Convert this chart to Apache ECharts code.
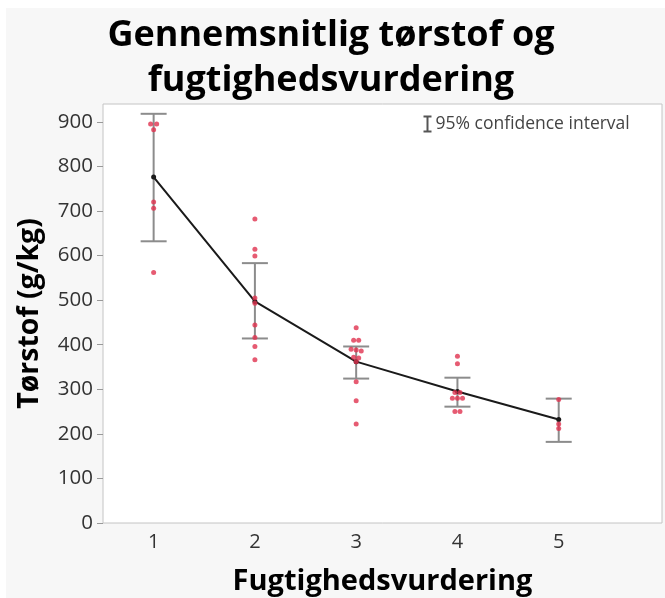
<!DOCTYPE html>
<html>
<head>
<meta charset="utf-8">
<script src="https://cdn.jsdelivr.net/npm/echarts@6/dist/echarts.min.js"></script>
<style>html,body{margin:0;padding:0;background:#fff}#c{width:665px;height:598px}</style>
</head>
<body>
<div id="c"></div>
<script>
const categories = [1, 2, 3, 4, 5];
const yTicks = [0, 100, 200, 300, 400, 500, 600, 700, 800, 900];
const means = [776, 497, 362, 295, 232];
const ciUpper = [918, 583, 396, 326, 279];
const ciLower = [632, 414, 324, 261, 182];
const obs1 = [895, 895, 882, 720, 706, 562];
const jit1 = [-0.03, 0.03, 0, 0, 0, 0];
const obs2 = [682, 614, 599, 505, 493, 444, 416, 396, 366];
const jit2 = [0, 0, 0, 0, 0, 0, 0, 0, 0];
const obs3 = [438, 410, 410, 390, 388, 386, 372, 370, 362, 317, 274, 222];
const jit3 = [0, -0.025, 0.025, -0.05, 0, 0.05, -0.025, 0.025, 0, 0, 0, 0];
const obs4 = [374, 357, 293, 293, 280, 280, 280, 250, 250];
const jit4 = [0, 0, -0.025, 0.025, -0.05, 0, 0.05, -0.025, 0.025];
const obs5 = [277, 222, 212];
const jit5 = [0, 0, 0];

const obsAll = [obs1, obs2, obs3, obs4, obs5];
const jitAll = [jit1, jit2, jit3, jit4, jit5];
const scatterData = [];
obsAll.forEach((arr, i) => arr.forEach((v, j) => scatterData.push([categories[i] + jitAll[i][j], v])));
const meanData = categories.map((c, i) => [c, means[i]]);
const ciData = categories.map((c, i) => [c, ciLower[i], ciUpper[i]]);

const FONT = 'Open Sans';
const chart = echarts.init(document.getElementById('c'), null, {renderer: 'canvas'});
chart.setOption({
  backgroundColor: '#f7f7f7',
  animation: false,
  title: {
    text: 'Gennemsnitlig tørstof og\nfugtighedsvurdering',
    left: 326, top: 8, textAlign: 'center',
    textStyle: {fontFamily: FONT, fontWeight: 'bold', fontSize: 36, lineHeight: 45, color: '#000'}
  },
  grid: {left: 103, top: 104, right: 3, bottom: 75, outerBoundsMode: 'none', containLabel: false,
    show: true, backgroundColor: '#fff', borderColor: '#c4c4c4', borderWidth: 1},
  xAxis: {
    type: 'value', min: 0.5, max: 6.02,
    name: 'Fugtighedsvurdering', nameLocation: 'middle', nameGap: 44,
    nameTextStyle: {fontFamily: FONT, fontWeight: 'bold', fontSize: 29, color: '#000'},
    axisLine: {show: false},
    splitLine: {show: false},
    axisTick: {show: false},
    axisLabel: {customValues: categories, fontFamily: FONT, fontSize: 20, color: '#333', margin: 9}
  },
  yAxis: {
    type: 'value', min: 0, max: 940,
    name: 'Tørstof (g/kg)', nameLocation: 'middle', nameGap: 59,
    nameTextStyle: {fontFamily: FONT, fontWeight: 'bold', fontSize: 28.5, color: '#000'},
    axisLine: {show: false},
    splitLine: {show: false},
    axisTick: {show: true, customValues: yTicks, length: 6, lineStyle: {color: '#999'}},
    axisLabel: {customValues: yTicks, fontFamily: FONT, fontSize: 20.5, color: '#333', margin: 10}
  },
  series: [
    {
      type: 'custom', data: ciData, z: 2,
      renderItem: function (params, api) {
        const x = api.value(0);
        const lo = api.coord([x, api.value(1)]);
        const hi = api.coord([x, api.value(2)]);
        const hw = 13;
        const st = {stroke: '#8c8c8c', lineWidth: 2};
        return {type: 'group', children: [
          {type: 'line', shape: {x1: lo[0], y1: lo[1], x2: hi[0], y2: hi[1]}, style: st},
          {type: 'line', shape: {x1: lo[0] - hw, y1: lo[1], x2: lo[0] + hw, y2: lo[1]}, style: st},
          {type: 'line', shape: {x1: hi[0] - hw, y1: hi[1], x2: hi[0] + hw, y2: hi[1]}, style: st}
        ]};
      }
    },
    {
      type: 'line', data: meanData, z: 3,
      lineStyle: {color: '#1a1a1a', width: 2},
      symbol: 'circle', symbolSize: 5, itemStyle: {color: '#1a1a1a'}
    },
    {
      type: 'scatter', data: scatterData, z: 4,
      symbol: 'circle', symbolSize: 5, itemStyle: {color: '#e0324f'}
    }
  ],
  graphic: [
    {type: 'rect', left: 0, top: 0, shape: {width: 665, height: 8}, style: {fill: '#fff'}, silent: true},
    {type: 'rect', left: 0, top: 0, shape: {width: 6, height: 598}, style: {fill: '#fff'}, silent: true},
    {type: 'group', left: 421, top: 114, children: [
      {type: 'line', shape: {x1: 4, y1: 0, x2: 4, y2: 15}, style: {stroke: '#555', lineWidth: 2}},
      {type: 'line', shape: {x1: 0, y1: 0, x2: 8, y2: 0}, style: {stroke: '#555', lineWidth: 2}},
      {type: 'line', shape: {x1: 0, y1: 15, x2: 8, y2: 15}, style: {stroke: '#555', lineWidth: 2}},
      {type: 'text', x: 12, y: 8, style: {text: '95% confidence interval', fontFamily: FONT, fontSize: 17.5, fill: '#444', verticalAlign: 'middle'}}
    ]}
  ]
});
</script>
</body>
</html>
